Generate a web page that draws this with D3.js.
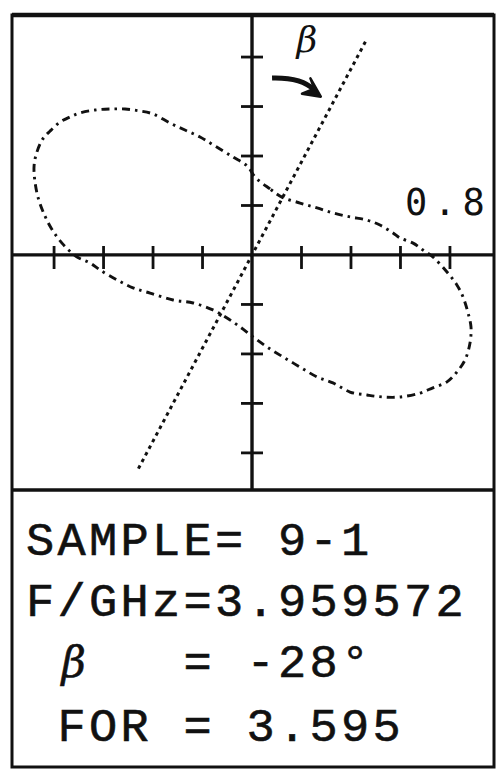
<!DOCTYPE html>
<html><head><meta charset="utf-8">
<script src="https://cdn.jsdelivr.net/npm/d3@7"></script>
<style>
html,body{margin:0;padding:0;background:#fff;}
svg{display:block;}
text{white-space:pre;}
</style></head>
<body>
<svg id="chart" width="497" height="769"></svg>
<script>
// ---- data (polar-plot trace, in plot units; 1 tick = 0.2) ----
const patternX = [0.121,0.073,0.016,-0.020,-0.077,-0.149,-0.210,-0.271,-0.331,-0.400,-0.453,-0.513,-0.574,-0.634,-0.695,-0.735,-0.776,-0.816,-0.848,-0.873,-0.881,-0.877,-0.865,-0.844,-0.812,-0.768,-0.707,-0.655,-0.614,-0.545,-0.481,-0.412,-0.319,-0.238,-0.158,-0.101,-0.048,0.004,0.061,0.125,0.194,0.263,0.327,0.396,0.465,0.529,0.598,0.679,0.731,0.788,0.828,0.861,0.881,0.885,0.873,0.853,0.828,0.788,0.731,0.691,0.651,0.598,0.570,0.517,0.465,0.396,0.327,0.263,0.194];
const patternY = [0.234,0.267,0.311,0.360,0.396,0.440,0.477,0.505,0.533,0.570,0.582,0.590,0.590,0.586,0.574,0.558,0.537,0.501,0.465,0.404,0.356,0.295,0.234,0.174,0.109,0.048,-0.008,-0.032,-0.061,-0.101,-0.133,-0.154,-0.182,-0.194,-0.222,-0.255,-0.291,-0.331,-0.372,-0.412,-0.453,-0.493,-0.517,-0.554,-0.566,-0.574,-0.574,-0.558,-0.537,-0.513,-0.473,-0.424,-0.356,-0.291,-0.234,-0.170,-0.121,-0.069,-0.008,0.020,0.048,0.069,0.089,0.121,0.141,0.154,0.170,0.190,0.210];
const betaDeg = -28;
const betaExtent = [-0.978, 0.985];
const xTicks = [-0.8,-0.6,-0.4,-0.2,0.2,0.4,0.6,0.8];
const yTicks = [-0.8,-0.6,-0.4,-0.2,0.2,0.4,0.6,0.8];
const scaleLabel = "0.8";
const infoLines = ["SAMPLE= 9-1", "F/GHz=3.959572", "β", "= -28°", "FOR = 3.595"];

// ---- layout ----
const svg = d3.select("#chart");
const frame = {left:12, right:494, top:15, sep:490, bottom:767};
const x = d3.scaleLinear().domain([-0.97, 0.978]).range([frame.left, frame.right]);
const y = d3.scaleLinear().domain([0.97, -0.95]).range([frame.top, frame.sep]);
const ink = "#111";

// frame
svg.append("rect").attr("x",frame.left).attr("y",frame.top)
  .attr("width",frame.right-frame.left).attr("height",frame.bottom-frame.top)
  .attr("fill","none").attr("stroke",ink).attr("stroke-width",3);
svg.append("line").attr("x1",frame.left).attr("x2",frame.right)
  .attr("y1",frame.top).attr("y2",frame.top).attr("stroke",ink).attr("stroke-width",4.5);
svg.append("line").attr("x1",frame.left).attr("x2",frame.right)
  .attr("y1",frame.sep).attr("y2",frame.sep).attr("stroke",ink).attr("stroke-width",3.5);

// axes
svg.append("line").attr("x1",frame.left).attr("x2",frame.right)
  .attr("y1",y(0)).attr("y2",y(0)).attr("stroke",ink).attr("stroke-width",3.2);
svg.append("line").attr("x1",x(0)).attr("x2",x(0))
  .attr("y1",frame.top).attr("y2",frame.sep).attr("stroke",ink).attr("stroke-width",3.4);
svg.selectAll(".xt").data(xTicks).join("line").attr("class","xt")
  .attr("x1",d=>x(d)).attr("x2",d=>x(d)).attr("y1",y(0)-9).attr("y2",y(0)+14)
  .attr("stroke",ink).attr("stroke-width",2.8);
svg.selectAll(".yt").data(yTicks).join("line").attr("class","yt")
  .attr("y1",d=>y(d)).attr("y2",d=>y(d)).attr("x1",x(0)-11).attr("x2",x(0)+11)
  .attr("stroke",ink).attr("stroke-width",2.8);

// pattern curve
const pts = patternX.map((v,i)=>[v, patternY[i]]);
svg.append("path").datum(pts)
  .attr("d", d3.line().x(d=>x(d[0])).y(d=>y(d[1])).curve(d3.curveCatmullRomClosed.alpha(0.5)))
  .attr("fill","none").attr("stroke",ink).attr("stroke-width",2.9)
  .attr("stroke-dasharray","8,5,2.5,5").attr("stroke-linecap","butt");

// beta direction line
const a = betaDeg*Math.PI/180;
const dir = [-Math.sin(a), Math.cos(a)];
svg.append("line")
  .attr("x1", x(betaExtent[0]*dir[0])).attr("y1", y(betaExtent[0]*dir[1]))
  .attr("x2", x(betaExtent[1]*dir[0])).attr("y2", y(betaExtent[1]*dir[1]))
  .attr("stroke",ink).attr("stroke-width",3).attr("stroke-dasharray","3.5,4");

// beta annotation + arrow
svg.append("text").attr("x", x(0.222)).attr("y", y(0.822))
  .attr("text-anchor","middle").attr("font-family","DejaVu Serif").attr("font-style","italic")
  .attr("font-size",36).attr("fill",ink).text("β");
svg.append("path")
  .attr("d", `M${x(0.081)},${y(0.715)} Q${x(0.200)},${y(0.718)} ${x(0.250)},${y(0.668)}`)
  .attr("fill","none").attr("stroke",ink).attr("stroke-width",5);
svg.append("path")
  .attr("d", `M${x(0.278)},${y(0.640)} L${x(0.236)},${y(0.714)} L${x(0.252)},${y(0.672)} L${x(0.202)},${y(0.652)} Z`)
  .attr("fill",ink).attr("stroke",ink).attr("stroke-width",2.5).attr("stroke-linejoin","round");

// scale label
svg.append("text").attr("x", 405).attr("y", y(0.162))
  .attr("font-family","DejaVu Sans Mono").attr("font-size",37).attr("letter-spacing",6.5)
  .attr("fill",ink).text(scaleLabel);

// info panel
const pitch = 31.5, col0 = 26, fs = 47;
const info = svg.append("g").attr("font-family","Liberation Mono").attr("font-size",fs)
  .attr("letter-spacing", pitch-0.6*fs).attr("fill",ink).attr("stroke",ink).attr("stroke-width",0.6);
info.append("text").attr("x",col0).attr("y",555).text(infoLines[0]);
info.append("text").attr("x",col0).attr("y",616).text(infoLines[1]);
const bl = info.append("text").attr("y",677);
bl.append("tspan").attr("x",col0+pitch*1+4).attr("font-family","DejaVu Serif").attr("font-style","italic")
  .attr("font-size",42).attr("letter-spacing",0).text(infoLines[2]);
bl.append("tspan").attr("x",col0+pitch*5).text(infoLines[3]);
info.append("text").attr("x",col0+pitch).attr("y",741).text(infoLines[4]);
</script>
</body></html>
